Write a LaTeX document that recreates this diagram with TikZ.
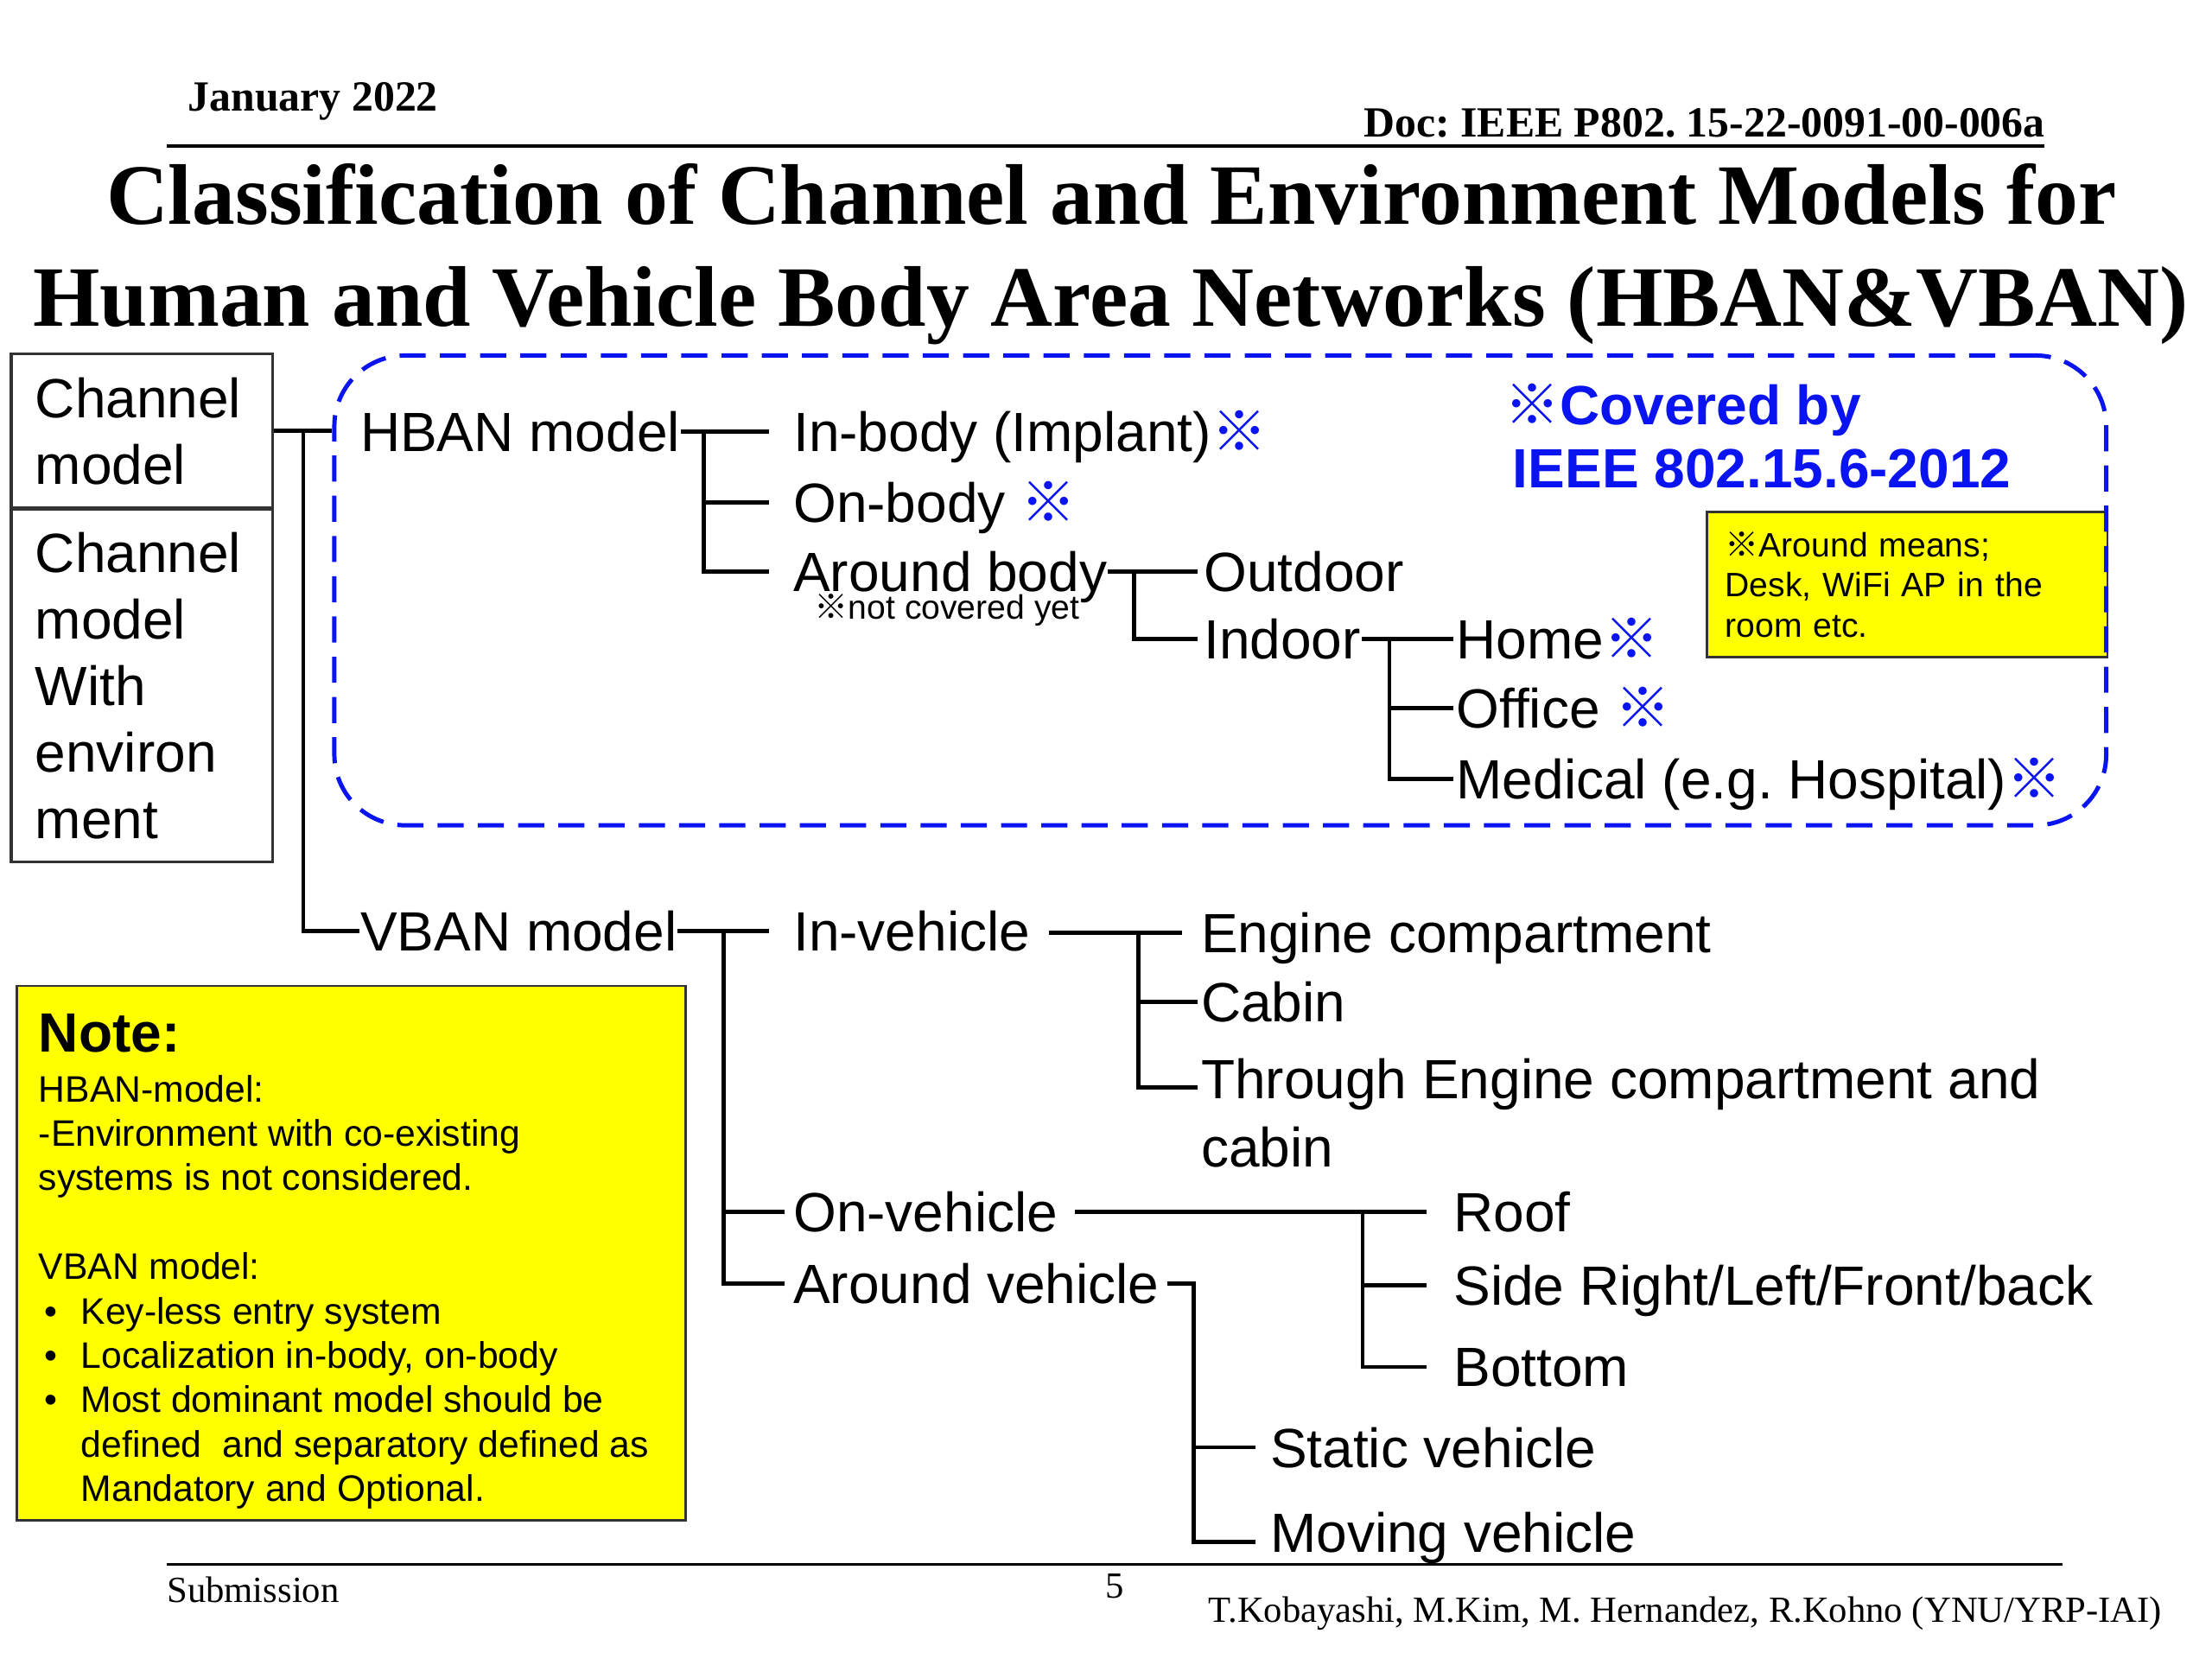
\documentclass[tikz,border=0pt]{standalone}
\usepackage{fontspec}
\setmainfont{Liberation Sans}
\newfontfamily\timesf{Liberation Serif}
\newfontfamily\cjkf{Noto Sans CJK JP}
\newlength\upx
\setlength\upx{0.45918pt}
\definecolor{kblue}{RGB}{10,20,240}
\definecolor{kyellow}{RGB}{255,255,0}
\newcommand\kome{{\cjkf ※}}
\newcommand\bkome{{\color{kblue}\cjkf\bfseries ※}}
\frenchspacing
\begin{document}
\begin{tikzpicture}[x=1\upx, y=-1\upx,
  lbl/.style={anchor=west, inner sep=0pt, text height=12.9pt, text depth=0pt, font=\fontsize{18}{21.7}\selectfont},
  blbl/.style={lbl, text=kblue, font=\bfseries\fontsize{18}{21.7}\selectfont},
  tree/.style={line width=1.3pt, black},
  chbox/.style={draw=black!80, line width=0.9pt, align=left, text width=151\upx, inner xsep=17\upx, inner ysep=0pt, minimum width=185\upx, font=\fontsize{18}{21.7}\selectfont},
  notebox/.style={draw=black!80, line width=0.8pt, fill=kyellow},
  serifhead/.style={inner sep=0pt, font=\timesf\bfseries\fontsize{14}{17}\selectfont},
  seriffoot/.style={inner sep=0pt, font=\timesf\fontsize{12}{14}\selectfont},
  titletext/.style={anchor=base, inner sep=0pt, font=\timesf\bfseries\fontsize{28}{33}\selectfont}]
\fill[white] (0,0) rectangle (1568,1176);
\useasboundingbox (0,0) rectangle (1568,1176);

% header
\node[serifhead, anchor=base west] (date) at (133,79) {January 2022};
\node[serifhead, anchor=base east] (doc) at (1450,97) {Doc: IEEE P802. 15-22-0091-00-006a};
\draw[line width=1.2pt] (118,103.5) -- (1449,103.5);
\node[titletext] (t1) at (788,159) {Classification of Channel and Environment Models for};
\node[titletext] (t2) at (787.5,231) {Human and Vehicle Body Area Networks (HBAN\&VBAN)};

% left boxes
\node[chbox, minimum height=109\upx] (chan) at (100.5,305.5) {Channel\\model};
\node[chbox, minimum height=250\upx] (chanenv) at (100.5,486) {Channel\\model\\With\\environ\\ment};

% yellow box inside HBAN area
\node[notebox, anchor=north west, minimum width=284\upx, minimum height=103\upx, text width=258\upx, inner xsep=13\upx, inner ysep=0pt, align=left, font=\fontsize{11}{13.15}\selectfont] (means) at (1209,362) {\kome Around means;\\Desk, WiFi AP in the\\room etc.};

% dashed HBAN area
\node[draw=kblue, line width=1.4pt, dash pattern=on 8.5pt off 4.6pt, rounded corners=23pt, minimum width=1256\upx, minimum height=333\upx, inner sep=0pt] (hbox) at (865,418.5) {};

\node[blbl] (covered) at (1066,287) {{\cjkf\bfseries ※}Covered by};
\node[blbl] (ieee) at (1072,332) {IEEE 802.15.6-2012};

% HBAN tree
\node[lbl] (hban) at (255,306) {HBAN model};
\node[lbl] (inbody) at (562,306) {In-body (Implant)\bkome};
\node[lbl] (onbody) at (562,356) {On-body \bkome};
\node[lbl] (aroundbody) at (562,405) {Around body};
\node[anchor=west, inner sep=0pt, text height=7.9pt, text depth=0pt, font=\fontsize{11}{13}\selectfont] (notcov) at (577,430) {\kome not covered yet};
\node[lbl] (outdoor) at (853,405) {Outdoor};
\node[lbl] (indoor) at (853,453) {Indoor};
\node[lbl] (home) at (1032,453) {Home\bkome};
\node[lbl] (office) at (1032,502) {Office \bkome};
\node[lbl] (medical) at (1032,552) {Medical (e.g. Hospital)\bkome};

\coordinate (j0) at (215,305.5);
\draw[tree] (chan.east) -- (hbox.west |- chan.east);
\coordinate (jh) at (499,306);
\draw[tree] (hban.east) -- ([xshift=-17\upx]inbody.west);
\draw[tree] (jh) |- ([xshift=-17\upx]onbody.west);
\draw[tree] (jh) |- ([xshift=-17\upx]aroundbody.west);
\coordinate (ja) at (804,405);
\draw[tree] (aroundbody.east) -- ([xshift=-4\upx]outdoor.west);
\draw[tree] (ja) |- ([xshift=-4\upx]indoor.west);
\coordinate (ji) at (985,453);
\draw[tree] (indoor.east) -- ([xshift=-2\upx]home.west);
\draw[tree] (ji) |- ([xshift=-2\upx]office.west);
\draw[tree] (ji) |- ([xshift=-2\upx]medical.west);

% VBAN tree
\node[lbl] (vban) at (255,660) {VBAN model};
\draw[tree] (j0) |- (vban.west);
\node[lbl] (invehicle) at (562,660) {In-vehicle};
\node[lbl] (onvehicle) at (562,859) {On-vehicle};
\node[lbl] (aroundvehicle) at (562,910) {Around vehicle};
\coordinate (jv) at (513,660);
\draw[tree] (vban.east) -- ([xshift=-17\upx]invehicle.west);
\draw[tree] (jv) |- ([xshift=-6\upx]onvehicle.west);
\draw[tree] (jv) |- ([xshift=-6\upx]aroundvehicle.west);

\node[lbl] (engine) at (851,661) {Engine compartment};
\node[lbl] (cabin) at (851,710) {Cabin};
\node[lbl] (through) at (851,765) {Through Engine compartment and};
\node[lbl] (throughb) at (851,813) {cabin};
\coordinate (jiv) at (807,661);
\draw[tree] ([xshift=13\upx]invehicle.east |- engine.west) -- ([xshift=-13\upx]engine.west);
\draw[tree] (jiv) |- ([xshift=-2\upx]cabin.west);
\draw[tree] (jiv) |- ([xshift=-2\upx,yshift=-6\upx]through.west);

\node[lbl] (roof) at (1030,859) {Roof};
\node[lbl] (side) at (1030,911) {Side Right/Left/Front/back};
\node[lbl] (bottom) at (1030,969) {Bottom};
\coordinate (jo) at (966,859);
\draw[tree] ([xshift=12\upx]onvehicle.east) -- ([xshift=-19\upx]roof.west);
\draw[tree] (jo) |- ([xshift=-19\upx]side.west);
\draw[tree] (jo) |- ([xshift=-19\upx]bottom.west);

\node[lbl] (static) at (900,1026) {Static vehicle};
\node[lbl] (moving) at (900,1086) {Moving vehicle};
\coordinate (jav) at (846,910);
\draw[tree] ([xshift=5\upx]aroundvehicle.east) -- (jav) |- ([xshift=-10\upx,yshift=-7\upx]moving.west);
\draw[tree] (jav) |- ([xshift=-10\upx]static.west);

% note box
\node[notebox, anchor=north west, minimum width=474\upx, minimum height=379\upx, inner sep=0pt] (note) at (11,698) {};
\node[anchor=base west, inner sep=0pt, font=\bfseries\fontsize{18}{21.7}\selectfont] (notehead) at (27,746) {Note:};
\node[anchor=base west, inner sep=0pt, font=\fontsize{12}{14.45}\selectfont] (notebody) at (27,781) {\parbox[t]{455\upx}{HBAN-model:\\
-Environment with co-existing\\
systems is not considered.\\
\mbox{}\\
VBAN model:\\
\hspace*{4\upx}\makebox[26\upx][l]{•}Key-less entry system\\
\hspace*{4\upx}\makebox[26\upx][l]{•}Localization in-body, on-body\\
\hspace*{4\upx}\makebox[26\upx][l]{•}Most dominant model should be\\
\hspace*{30\upx}defined\ \ and separatory defined as\\
\hspace*{30\upx}Mandatory and Optional.}};

% footer
\draw[line width=1pt] (118,1109) -- (1462,1109);
\node[seriffoot, anchor=base west] (sub) at (118,1136) {Submission};
\node[seriffoot, anchor=base] (pg) at (790,1133) {5};
\node[seriffoot, anchor=base east] (auth) at (1533,1150) {T.Kobayashi, M.Kim, M. Hernandez, R.Kohno (YNU/YRP-IAI)};
\end{tikzpicture}
\end{document}
